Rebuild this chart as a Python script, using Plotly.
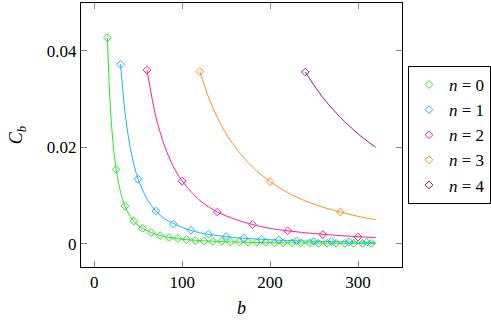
import plotly.graph_objects as go

# ---- data ----
series_names = ["<i>n</i>\u2005=\u20050", "<i>n</i>\u2005=\u20051", "<i>n</i>\u2005=\u20052",
                "<i>n</i>\u2005=\u20053", "<i>n</i>\u2005=\u20054"]
colors = ["#22e622", "#1fb0f5", "#ff1a96", "#ff8c1a", "#8b1a8b"]

# marker positions
b0 = [15, 25, 35, 45, 55, 65, 75, 85, 95, 105, 115, 125, 135, 145, 155, 165, 175, 185,
      195, 205, 215, 225, 235, 245, 255, 265, 275, 285, 295, 305, 315]
c0 = [0.0427, 0.0154, 0.0078, 0.0047, 0.0032, 0.0023, 0.0017, 0.0013, 0.0011, 0.0009,
      0.0007, 0.0006, 0.0005, 0.0005, 0.0004, 0.0004, 0.0003, 0.0003, 0.0003, 0.0002,
      0.0002, 0.0002, 0.0002, 0.0002, 0.0001, 0.0001, 0.0001, 0.0001, 0.0001, 0.0001, 0.0001]
b1 = [30, 50, 70, 90, 110, 130, 150, 170, 190, 210, 230, 250, 270, 290, 310]
c1 = [0.0372, 0.0134, 0.0068, 0.0041, 0.0028, 0.0020, 0.0015, 0.0012, 0.0009, 0.0008,
      0.0006, 0.0005, 0.0005, 0.0004, 0.0003]
b2 = [60, 100, 140, 180, 220, 260, 300]
c2 = [0.0360, 0.0130, 0.0066, 0.0040, 0.0027, 0.0019, 0.0014]
b3 = [120, 200, 280]
c3 = [0.0357, 0.0129, 0.0066]
b4 = [240]
c4 = [0.0356]

# smooth curve samples
lb0 = [15, 17.5, 20, 22.5, 25, 30, 35, 40, 45, 50, 60, 70, 80, 100, 120, 140, 160, 200, 240, 280, 320]
lc0 = [0.0427, 0.0313, 0.0240, 0.0190, 0.0154, 0.0107, 0.0078, 0.0060, 0.0047, 0.0038, 0.0027,
       0.0020, 0.0015, 0.00096, 0.00067, 0.00049, 0.00038, 0.00024, 0.00017, 0.00012, 0.00009]
lb1 = [30, 35, 40, 45, 50, 60, 70, 80, 100, 120, 140, 160, 200, 240, 280, 320]
lc1 = [0.0372, 0.0273, 0.0209, 0.0165, 0.0134, 0.0093, 0.0068, 0.0052, 0.0034, 0.0023,
       0.0017, 0.0013, 0.00084, 0.00058, 0.00043, 0.00033]
lb2 = [60, 70, 80, 90, 100, 120, 140, 160, 180, 200, 240, 280, 320]
lc2 = [0.0360, 0.0264, 0.0203, 0.0160, 0.0130, 0.0090, 0.0066, 0.0051, 0.0040, 0.0032,
       0.0023, 0.0017, 0.0013]
lb3 = [120, 130, 140, 150, 160, 180, 200, 220, 240, 260, 280, 300, 320]
lc3 = [0.0357, 0.0304, 0.0262, 0.0228, 0.0201, 0.0159, 0.0129, 0.0106, 0.0089, 0.0076,
       0.0066, 0.0057, 0.0050]
lb4 = [240, 260, 280, 300, 320]
lc4 = [0.0356, 0.0303, 0.0262, 0.0228, 0.0200]

x_ticks = [0, 100, 200, 300]
y_ticks = [0, 0.02, 0.04]
y_ticktext = ["0", "0.02", "0.04"]

marker_sets = [(b0, c0), (b1, c1), (b2, c2), (b3, c3), (b4, c4)]
line_sets = [(lb0, lc0), (lb1, lc1), (lb2, lc2), (lb3, lc3), (lb4, lc4)]

FONT = "Liberation Serif"
W, H = 491, 322
L, R, T, B = 81, 89, 3, 55

fig = go.Figure()
for (lx, ly), col in zip(line_sets, colors):
    fig.add_trace(go.Scatter(x=lx, y=ly, mode="lines", showlegend=False,
                             line=dict(color=col, width=1, shape="spline", smoothing=0.8),
                             hoverinfo="skip"))
for (mx, my), col, name in zip(marker_sets, colors, series_names):
    fig.add_trace(go.Scatter(x=mx, y=my, mode="markers", name=name,
                             marker=dict(symbol="diamond-open", size=6, color=col,
                                         line=dict(color=col, width=1))))

axis_common = dict(showline=True, linecolor="black", linewidth=1, mirror="ticks",
                   ticks="inside", ticklen=6, tickcolor="#888888", tickwidth=1,
                   showgrid=False, zeroline=False, automargin=False)

fig.update_xaxes(range=[-15, 350], tickvals=x_ticks, ticktext=[str(v) for v in x_ticks],
                 tickfont=dict(family=FONT, size=17, color="black"),
                 title=dict(text="<i>b</i>", font=dict(family=FONT, size=18, color="black"),
                            standoff=9),
                 **axis_common)
fig.update_yaxes(range=[-0.0048, 0.0499], tickvals=y_ticks, ticktext=y_ticktext,
                 tickfont=dict(family=FONT, size=17, color="black"),
                 title=dict(text="<i>C</i><sub><i>b</i></sub>",
                            font=dict(family=FONT, size=18, color="black"), standoff=19),
                 **axis_common)

fig.update_layout(
    width=W, height=H,
    margin=dict(l=L, r=R, t=T, b=B, autoexpand=False),
    paper_bgcolor="white", plot_bgcolor="white",
    font=dict(family=FONT, size=17, color="black"),
    legend=dict(x=408 / W, y=0.5, xref="container", xanchor="left", yanchor="middle",
                bordercolor="black", borderwidth=1, bgcolor="white",
                font=dict(family=FONT, size=17, color="black"),
                itemwidth=30, tracegroupgap=0),
)

fig.write_html("out.html", post_script="document.body.style.margin='0';",
               config={"displayModeBar": False})
